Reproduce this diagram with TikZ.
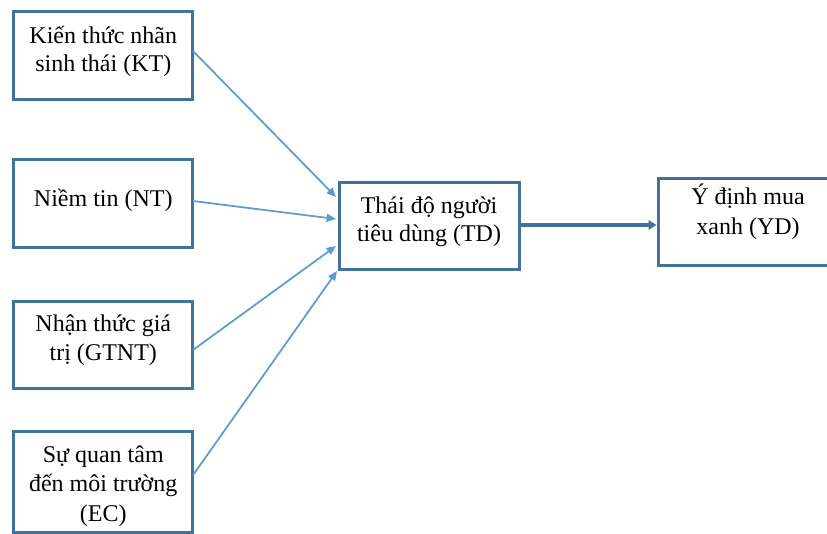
\documentclass[tikz,border=0pt]{standalone}
\usepackage{fontspec}
\setmainfont{Liberation Serif}
\usetikzlibrary{calc,arrows.meta}
\definecolor{boxblue}{HTML}{41719C}
\definecolor{arrowblue}{HTML}{5B9BD5}
\begin{document}
\begin{tikzpicture}[x=0.75pt,y=-0.75pt,
  box/.style={draw=boxblue,line width=2.25pt,rectangle,inner sep=0pt,fill=white},
  txt/.style={align=center,anchor=base,inner sep=0pt,font=\fontsize{18}{21.5}\selectfont},
  link/.style={draw=arrowblue,line width=1.3pt,-{Triangle[length=7pt,width=6pt]}},
  mainlink/.style={draw=boxblue,line width=3pt,-{Triangle[length=6pt,width=7pt]}}]
\clip (0,0) rectangle (827,534);
\fill[white] (0,0) rectangle (827,534);
% boxes
\node[box,minimum width=134.6pt,minimum height=66pt] (KT) at (103.25,55.5) {};
\node[box,minimum width=134.6pt,minimum height=66pt] (NT) at (103.25,203.5) {};
\node[box,minimum width=134.6pt,minimum height=65.6pt] (GTNT) at (103.25,344.75) {};
\node[box,minimum width=134.6pt,minimum height=75.4pt] (EC) at (103.25,482.25) {};
\node[box,minimum width=135pt,minimum height=65.25pt] (TD) at (429,226.5) {};
\node[box,minimum width=135pt,minimum height=65.25pt] (YD) at (748,222.5) {};
% texts (base anchor = baseline of last line)
\node[txt] (KTt) at ($(KT.center)+(0,16.5)$) {Kiến thức nhãn\\sinh thái (KT)};
\node[txt] (NTt) at ($(NT.center)+(0,3.5)$) {Niềm tin (NT)};
\node[txt] (GTNTt) at ($(GTNT.center)+(0,15.25)$) {Nhận thức giá\\trị (GTNT)};
\node[txt,font=\fontsize{18}{22}\selectfont] (ECt) at ($(EC.center)+(0,38.75)$) {Sự quan tâm\\đến môi trường\\(EC)};
\node[txt] (TDt) at ($(TD.center)+(0,15.2)$) {Thái độ người\\tiêu dùng (TD)};
\node[txt,font=\fontsize{18}{22.5}\selectfont] (YDt) at ($(YD.center)+(0,12.5)$) {Ý định mua\\xanh (YD)};
% connectors
\draw[link] ($(KT.east)+(-1.5,-4.5)$) -- ($(TD.west)+(-1.5,-29.5)$);
\draw[link] ($(NT.east)+(-1.5,-2.5)$) -- ($(TD.west)+(-1.5,-7.5)$);
\draw[link] ($(GTNT.east)+(-1.5,5.25)$) -- ($(TD.west)+(-1.5,19.5)$);
\draw[link] ($(EC.east)+(-1.5,-7)$) -- ($(TD.west)+(-0.5,44.5)$);
\draw[mainlink] ($(TD.east)+(0,-1.5)$) -- ($(YD.west)+(0,2.5)$);
\end{tikzpicture}
\end{document}
